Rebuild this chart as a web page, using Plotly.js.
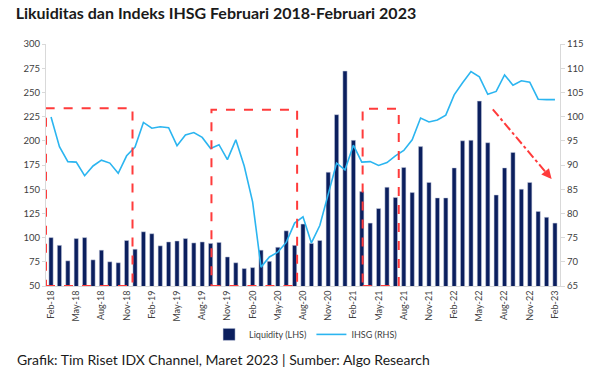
<!DOCTYPE html>
<html>
<head>
<meta charset="utf-8">
<script src="https://cdn.plot.ly/plotly-3.0.1.min.js"></script>
<style>html,body{margin:0;padding:0;background:#fff;}#chart{width:602px;height:381px;}</style>
</head>
<body>
<div id="chart"></div>
<script>
const months = [
  "Feb-18","Mar-18","Apr-18","May-18","Jun-18","Jul-18","Aug-18","Sep-18","Oct-18","Nov-18","Dec-18",
  "Jan-19","Feb-19","Mar-19","Apr-19","May-19","Jun-19","Jul-19","Aug-19","Sep-19","Oct-19","Nov-19","Dec-19",
  "Jan-20","Feb-20","Mar-20","Apr-20","May-20","Jun-20","Jul-20","Aug-20","Sep-20","Oct-20","Nov-20","Dec-20",
  "Jan-21","Feb-21","Mar-21","Apr-21","May-21","Jun-21","Jul-21","Aug-21","Sep-21","Oct-21","Nov-21","Dec-21",
  "Jan-22","Feb-22","Mar-22","Apr-22","May-22","Jun-22","Jul-22","Aug-22","Sep-22","Oct-22","Nov-22","Dec-22",
  "Jan-23","Feb-23"
];
const liquidity = [
  100, 92, 76, 99, 100, 77, 87, 75, 74, 97, 88,
  106, 104, 91.5, 95.5, 96.5, 99, 94.5, 95.5, 94, 95, 80, 74,
  68, 69, 87, 75.5, 90, 107, 92, 114, 94, 97, 167.5, 227,
  272, 200.5, 147.5, 115, 130, 152, 141.5, 172.5, 146.5, 194, 157, 141,
  141, 172, 200, 200.5, 241, 198, 144, 172, 188, 150, 157, 127,
  121, 115
];
const ihsg = [
  99.9, 93.8, 90.7, 90.6, 87.8, 89.8, 91.0, 90.4, 88.3, 91.9, 93.7,
  98.8, 97.6, 97.9, 97.7, 94.0, 96.2, 96.7, 95.7, 93.4, 94.2, 91.1, 95.2,
  89.8, 82.4, 68.9, 71.0, 72.0, 74.0, 78.0, 79.3, 73.9, 77.5, 84.2, 90.4,
  89.0, 94.1, 90.6, 90.7, 89.9, 90.5, 91.9, 93.0, 95.2, 99.7, 98.9, 99.3,
  100.3, 104.5, 107.0, 109.3, 108.2, 104.6, 105.2, 108.6, 106.5, 107.4, 107.1, 103.6,
  103.5, 103.5
];
const tickLabels = ["Feb-18","May-18","Aug-18","Nov-18","Feb-19","May-19","Aug-19","Nov-19",
  "Feb-20","May-20","Aug-20","Nov-20","Feb-21","May-21","Aug-21","Nov-21","Feb-22","May-22",
  "Aug-22","Nov-22","Feb-23"];
const leftTicks = [50,75,100,125,150,175,200,225,250,275,300];
const rightTicks = [65,70,75,80,85,90,95,100,105,110,115];
// highlighted periods: [start index, end index, top value on LHS]
const boxes = [[-0.6, 9.7, 233.5], [19.1, 29.3, 232], [37.1, 41.4, 233]];
const trendArrow = {x0: 52.6, y0: 232.5, x1: 59.6, y1: 160.5};

const FONT = "Lato, 'Open Sans', sans-serif";
const red = "#ff3b3b";

const traces = [
  {type:"bar", x: months, y: liquidity, name:"Liquidity (LHS)", yaxis:"y",
   marker:{color:"#0b1f5e", line:{color:"#c8cfe0", width:0.5}}},
  {type:"scatter", mode:"lines", x: months, y: ihsg, name:"IHSG (RHS)", yaxis:"y2",
   line:{color:"#2bb5f0", width:1.6}}
];

const shapes = boxes.map(b => ({type:"rect", xref:"x", yref:"y", x0:b[0], x1:b[1], y0:50, y1:b[2],
  line:{color:red, width:2, dash:"dash"}, fillcolor:"rgba(0,0,0,0)"}));
shapes.push({type:"line", xref:"x", yref:"y", x0:trendArrow.x0, y0:trendArrow.y0,
  x1:trendArrow.x1 - 0.4, y1:trendArrow.y1 + 4, line:{color:red, width:2, dash:"dashdot"}});

const layout = {
  width:602, height:381,
  margin:{l:46, r:42, t:44, b:95},
  paper_bgcolor:"#fff", plot_bgcolor:"#fff",
  font:{family:FONT, size:9, color:"#404040"},
  title:{text:"<b>Likuiditas dan Indeks IHSG Februari 2018-Februari 2023</b>", x:0.026, xanchor:"left",
         y:0.965, yanchor:"middle", font:{family:FONT, size:16, color:"#1a1a1a"}},
  bargap:0.5,
  showlegend:true,
  legend:{orientation:"h", x:0.505, xanchor:"center", y:-0.2, yanchor:"middle",
          font:{family:FONT, size:9, color:"#404040"}, itemwidth:30, tracegroupgap:0},
  xaxis:{type:"category", range:[-0.6, 60.6], tickmode:"array", tickvals:tickLabels, ticktext:tickLabels,
         tickangle:-90, showgrid:false, showline:true, linecolor:"#d9d9d9", linewidth:1,
         ticks:"", tickfont:{size:9, color:"#404040"}, zeroline:false},
  yaxis:{range:[50,300], tickvals:leftTicks, showgrid:false, showline:true, linecolor:"#d9d9d9",
         ticks:"outside", ticklen:3, tickcolor:"#d9d9d9", zeroline:false, tickfont:{size:9.5, color:"#404040"}},
  yaxis2:{range:[65,115], tickvals:rightTicks, overlaying:"y", side:"right", showgrid:false, showline:true,
          linecolor:"#d9d9d9", ticks:"outside", ticklen:4, tickcolor:"#d9d9d9", zeroline:false,
          tickfont:{size:9.5, color:"#404040"}},
  shapes: shapes,
  annotations:[
    {x:trendArrow.x1, y:trendArrow.y1, ax:trendArrow.x1 - 0.7, ay:trendArrow.y1 + 7.2, axref:"x", ayref:"y",
     xref:"x", yref:"y", showarrow:true, arrowhead:2, arrowsize:1, arrowwidth:2, arrowcolor:red, text:""},
    {text:"Grafik: Tim Riset IDX Channel, Maret 2023 | Sumber: Algo Research", xref:"paper", yref:"paper",
     x:-0.06, y:-0.305, xanchor:"left", yanchor:"middle", showarrow:false,
     font:{family:FONT, size:14, color:"#1a1a1a"}}
  ]
};

Plotly.newPlot("chart", traces, layout, {displayModeBar:false, staticPlot:true});
</script>
</body>
</html>
